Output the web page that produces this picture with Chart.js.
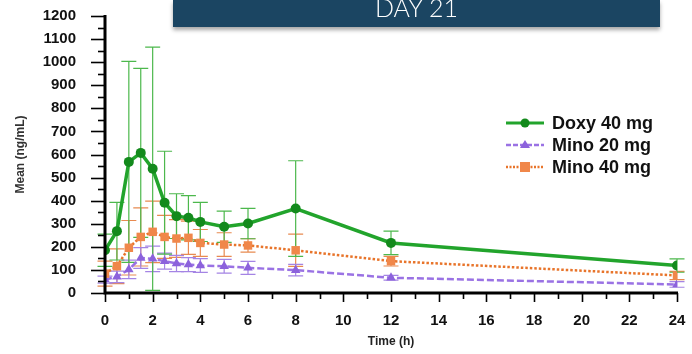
<!DOCTYPE html>
<html><head><meta charset="utf-8">
<script src="https://cdn.jsdelivr.net/npm/chart.js@4"></script>
<style>
html,body{margin:0;padding:0;background:#fff;}
#wrap{position:relative;width:692px;height:354px;overflow:hidden;}
#c{position:absolute;left:0;top:0;}
#banner{position:absolute;left:173px;top:0;width:487px;height:27px;background:#1b4562;box-shadow:0 3px 4px rgba(0,0,0,0.35);overflow:hidden;}
#banner span{position:absolute;left:0;right:0;top:-5px;text-align:center;color:#fff;font-family:Lato,"Open Sans",sans-serif;font-weight:300;font-size:25px;line-height:25px;}
#legend{position:absolute;left:505px;top:112px;font-family:"Liberation Sans",Arial,sans-serif;font-weight:bold;font-size:18px;color:#111;}
.row{position:relative;height:22px;line-height:22px;white-space:nowrap;}
.row svg{position:absolute;left:0;top:3px;}
.row span{position:absolute;left:47px;top:0;}
</style></head>
<body><div id="wrap">
<canvas id="c" width="692" height="354"></canvas>
<div id="banner"><span>DAY 21</span></div>
<div id="legend">
 <div class="row"><svg width="40" height="16"><line x1="1" y1="8" x2="39" y2="8" stroke="#22a42c" stroke-width="3"/><circle cx="20" cy="8" r="4.5" fill="#138a1c"/></svg><span>Doxy 40 mg</span></div>
 <div class="row"><svg width="40" height="16"><line x1="1" y1="8" x2="39" y2="8" stroke="#9a72e4" stroke-width="2.5" stroke-dasharray="5,2"/><polygon points="20,3 25,11 15,11" fill="#8c62dc"/></svg><span>Mino 20 mg</span></div>
 <div class="row"><svg width="40" height="16"><line x1="1" y1="8" x2="39" y2="8" stroke="#e8742a" stroke-width="2.5" stroke-dasharray="2,1.5"/><rect x="15" y="3" width="10" height="10" fill="#f0874a"/></svg><span>Mino 40 mg</span></div>
</div>
</div>
<script>
const times = [0,0.5,1,1.5,2,2.5,3,3.5,4,5,6,8,12,24];
const doxy40   = [185,268,568,607,538,391,333,326,308,287,301,366,217,119];
const doxy40SD = [70,125,435,366,527,223,97,96,85,68,66,207,51,29];
const mino20   = [58,70,102,152,148,138,128,123,119,116,109,99,66,37];
const mino20SD = [15,25,40,45,55,35,35,30,30,30,28,25,10,12];
const mino40   = [84,116,196,243,265,243,236,239,217,210,206,185,138,76];
const mino40SD = [54,75,118,126,133,93,82,72,58,51,29,70,21,18];
const xTicks = [0,2,4,6,8,10,12,14,16,18,20,22,24];
const yTicks = [0,100,200,300,400,500,600,700,800,900,1000,1100,1200];

const series = [
  {label:'Mino 40 mg', y:mino40, sd:mino40SD, line:'#e8742a', pt:'#f0874a', err:'#e88a50', style:'rect', r:6, dash:[2.5,2], w:2.5},
  {label:'Mino 20 mg', y:mino20, sd:mino20SD, line:'#9a72e4', pt:'#8c62dc', err:'#a484e4', style:'triangle', r:5.5, dash:[7,3], w:2.5},
  {label:'Doxy 40 mg', y:doxy40, sd:doxy40SD, line:'#22a42c', pt:'#138a1c', err:'#4cb84c', style:'circle', r:5, dash:[], w:3.5}
];

const datasets = series.map(s => ({
  label: s.label,
  data: times.map((t,i)=>({x:t, y:s.y[i]})),
  sd: s.sd,
  errColor: s.err,
  borderColor: s.line,
  borderWidth: s.w,
  borderDash: s.dash,
  backgroundColor: s.pt,
  pointBackgroundColor: s.pt,
  pointBorderColor: s.pt,
  pointBorderWidth: 0,
  pointStyle: s.style,
  pointRadius: s.r,
  tension: 0,
  fill: false
}));

const errorBars = {
  id:'errorBars',
  beforeDatasetsDraw(chart){
    const ctx = chart.ctx, xs = chart.scales.x, ys = chart.scales.y;
    ctx.save();
    chart.data.datasets.forEach(ds=>{
      ctx.strokeStyle = ds.errColor; ctx.lineWidth = 1.2; ctx.setLineDash([]);
      ds.data.forEach((p,i)=>{
        const px = xs.getPixelForValue(p.x);
        const hi = ys.getPixelForValue(p.y + ds.sd[i]);
        const lo = ys.getPixelForValue(Math.max(0, p.y - ds.sd[i]));
        ctx.beginPath();
        ctx.moveTo(px,hi); ctx.lineTo(px,lo);
        ctx.moveTo(px-7.5,hi); ctx.lineTo(px+7.5,hi);
        ctx.moveTo(px-7.5,lo); ctx.lineTo(px+7.5,lo);
        ctx.stroke();
      });
    });
    ctx.restore();
  }
};

const axes = {
  id:'axes',
  afterDatasetsDraw(chart){
    const ctx = chart.ctx, xs = chart.scales.x, ys = chart.scales.y;
    const a = chart.chartArea;
    ctx.save();
    ctx.strokeStyle = '#000'; ctx.setLineDash([]);
    ctx.lineWidth = 1.6;
    for (let v=0; v<=1200; v+=50){
      const py = Math.round(ys.getPixelForValue(v))+0.5;
      const len = (v%100===0)?14:7;
      ctx.beginPath(); ctx.moveTo(a.left-len,py); ctx.lineTo(a.left,py); ctx.stroke();
    }
    for (let v=0; v<=24; v+=1){
      const px = Math.round(xs.getPixelForValue(v))+0.5;
      const len = (v%2===0)?9:6;
      ctx.beginPath(); ctx.moveTo(px,a.bottom); ctx.lineTo(px,a.bottom+len); ctx.stroke();
    }
    ctx.lineWidth = 3;
    ctx.beginPath();
    ctx.moveTo(a.left, ys.getPixelForValue(1200)-1);
    ctx.lineTo(a.left, a.bottom);
    ctx.lineTo(xs.getPixelForValue(24)+1, a.bottom);
    ctx.stroke();
    ctx.restore();
  }
};

new Chart(document.getElementById('c'), {
  type:'line',
  data:{datasets},
  options:{
    responsive:false, animation:false,
    layout:{padding:{left:0,right:15,top:16,bottom:0}},
    plugins:{legend:{display:false}, title:{display:false}, tooltip:{enabled:false}},
    scales:{
      x:{type:'linear', min:0, max:24,
        afterBuildTicks(s){ s.ticks = xTicks.map(v=>({value:v})); },
        afterFit(s){ s.height = 61; s.paddingLeft = 0; s.paddingRight = 0; },
        grid:{display:false}, border:{display:false},
        ticks:{padding:11, color:'#111', callback:v=>String(v), font:{family:'"Liberation Sans", Arial, sans-serif', weight:'bold', size:15}, maxRotation:0, autoSkip:false},
        title:{display:true, text:'Time (h)', color:'#222', font:{family:'"Liberation Sans", Arial, sans-serif', weight:'bold', size:12}, padding:{top:0,bottom:5}}
      },
      y:{min:0, max:1200,
        afterBuildTicks(s){ s.ticks = yTicks.map(v=>({value:v})); },
        afterFit(s){ s.width = 105; s.paddingTop = 0; s.paddingBottom = 0; },
        grid:{display:false}, border:{display:false},
        ticks:{padding:21, color:'#111', callback:v=>String(v), font:{family:'"Liberation Sans", Arial, sans-serif', weight:'bold', size:15}, autoSkip:false},
        title:{display:true, text:'Mean (ng/mL)', color:'#333', font:{family:'"Liberation Sans", Arial, sans-serif', weight:'bold', size:12}, padding:{top:13,bottom:0}}
      }
    }
  },
  plugins:[errorBars, axes]
});
</script>
</body></html>
